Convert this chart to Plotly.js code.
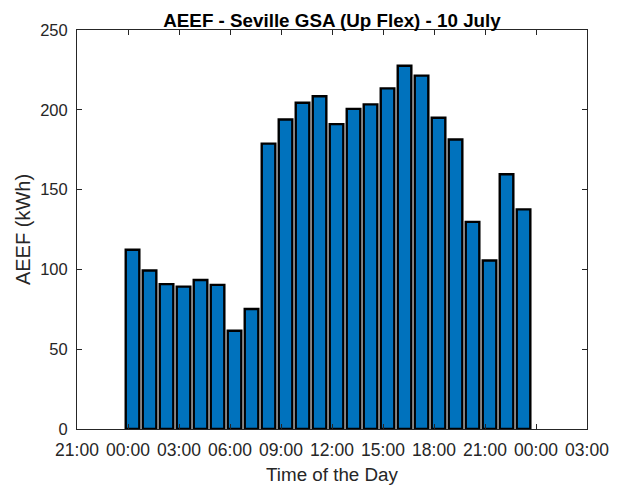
<!DOCTYPE html>
<html><head><meta charset="utf-8">
<script src="https://cdn.plot.ly/plotly-3.0.1.min.js"></script>
<style>html,body{margin:0;padding:0;background:#fff}</style>
</head><body>
<div id="chart" style="width:624px;height:487px"></div>
<script>
var times = ["2023-07-10 00:16","2023-07-10 01:16","2023-07-10 02:16","2023-07-10 03:16","2023-07-10 04:16","2023-07-10 05:16",
"2023-07-10 06:16","2023-07-10 07:16","2023-07-10 08:16","2023-07-10 09:16","2023-07-10 10:16","2023-07-10 11:16",
"2023-07-10 12:16","2023-07-10 13:16","2023-07-10 14:16","2023-07-10 15:16","2023-07-10 16:16","2023-07-10 17:16",
"2023-07-10 18:16","2023-07-10 19:16","2023-07-10 20:16","2023-07-10 21:16","2023-07-10 22:16","2023-07-10 23:16"];
var aeef = [112.3, 99.3, 90.8, 89.2, 93.4, 90.3, 61.6, 75.2, 178.8, 193.9, 204.4, 208.5,
191.0, 200.6, 203.4, 213.4, 227.6, 221.4, 195.0, 181.4, 129.8, 105.6, 159.6, 137.6];
var tickVals = ["2023-07-09 21:00","2023-07-10 00:00","2023-07-10 03:00","2023-07-10 06:00","2023-07-10 09:00","2023-07-10 12:00",
"2023-07-10 15:00","2023-07-10 18:00","2023-07-10 21:00","2023-07-11 00:00","2023-07-11 03:00"];
var tickText = ["21:00","00:00","03:00","06:00","09:00","12:00","15:00","18:00","21:00","00:00","03:00"];
var yTicks = [0, 50, 100, 150, 200, 250];

var axColor = "#262626";
var trace = {
  type: "bar", x: times, y: aeef,
  width: 0.8 * 3600000,
  marker: {color: "#0072BD", line: {color: "#000000", width: 2.4}},
  hoverinfo: "skip"
};
var layout = {
  width: 624, height: 487,
  margin: {l: 77, r: 37, t: 30, b: 58},
  paper_bgcolor: "#ffffff", plot_bgcolor: "#ffffff",
  font: {family: "Liberation Sans, Arial, sans-serif", color: axColor},
  title: {text: "<b>AEEF - Seville GSA (Up Flex) - 10 July</b>", font: {size: 18.8, color: "#000000"},
          x: 0.5, xref: "paper", y: 1, yref: "paper", yanchor: "bottom", pad: {b: 3}},
  showlegend: false,
  bargap: 0,
  xaxis: {
    type: "date", range: ["2023-07-09 21:00", "2023-07-11 03:00"],
    tickmode: "array", tickvals: tickVals, ticktext: tickText,
    ticks: "inside", ticklen: 5, tickcolor: axColor, tickwidth: 1,
    ticklabelstandoff: 5,
    showline: true, linecolor: axColor, linewidth: 1, mirror: "ticks",
    showgrid: false, zeroline: false,
    tickfont: {size: 17.5, color: axColor},
    title: {text: "Time of the Day", font: {size: 18.8, color: axColor}, standoff: 8}
  },
  yaxis: {
    range: [0, 250], tickmode: "array", tickvals: yTicks,
    ticks: "inside", ticklen: 5, tickcolor: axColor, tickwidth: 1,
    ticklabelstandoff: 5,
    showline: true, linecolor: axColor, linewidth: 1, mirror: "ticks",
    showgrid: false, zeroline: false,
    tickfont: {size: 16.5, color: axColor},
    title: {text: "AEEF (kWh)", font: {size: 20, color: axColor}, standoff: 4}
  }
};
Plotly.newPlot("chart", [trace], layout, {staticPlot: true, displayModeBar: false});
</script>
</body></html>
